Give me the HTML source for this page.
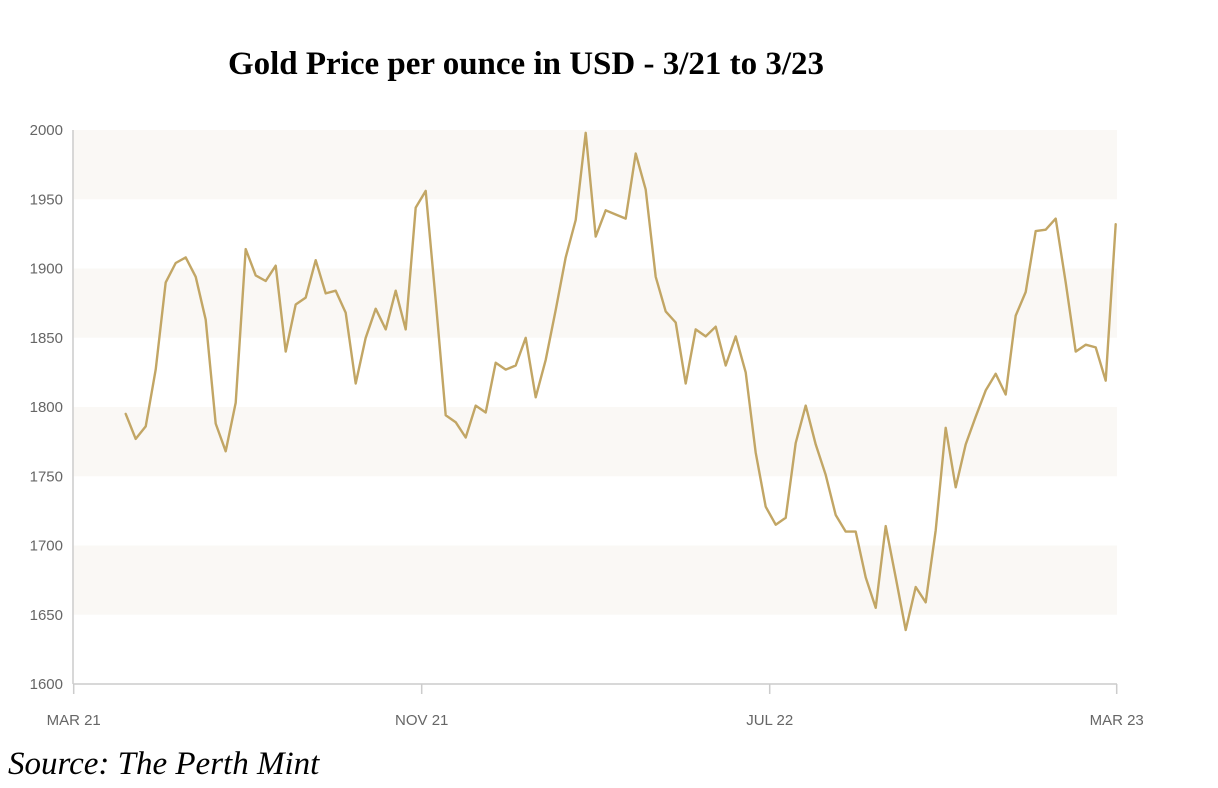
<!DOCTYPE html>
<html><head><meta charset="utf-8"><style>
body{margin:0;background:#fff;width:1218px;height:788px;overflow:hidden}
svg{display:block}
</style></head><body>
<svg id="chart" width="1218" height="788">
<text x="526" y="74" text-anchor="middle" font-family="Liberation Serif, serif" font-weight="bold" font-size="33" fill="#000">Gold Price per ounce in USD - 3/21 to 3/23</text>
<g id="bands"></g>
<g id="yaxis"></g>
<g id="xaxis"></g>
<g id="series"></g>
<text x="8" y="774" font-family="Liberation Serif, serif" font-style="italic" font-size="33" fill="#000">Source: The Perth Mint</text>
</svg>
<script>
const prices=[1795,1777,1786,1827,1890,1904,1908,1894,1863,1788,1768,1803,1914,1895,1891,1902,1840,1874,1879,1906,1882,1884,1868,1817,1850,1871,1856,1884,1856,1944,1956,1877,1794,1789,1778,1801,1796,1832,1827,1830,1850,1807,1834,1870,1908,1935,1998,1923,1942,1939,1936,1983,1957,1894,1869,1861,1817,1856,1851,1858,1830,1851,1825,1767,1728,1715,1720,1774,1801,1773,1751,1722,1710,1710,1677,1655,1714,1677,1639,1670,1659,1711,1785,1742,1773,1793,1812,1824,1809,1866,1883,1927,1928,1936,1890,1840,1845,1843,1819,1932];
const yTicks=[1600,1650,1700,1750,1800,1850,1900,1950,2000];
const xTickLabels=["MAR 21","NOV 21","JUL 22","MAR 23"];
const xTickWeeks=[-5.2,29.6,64.4,99.1];
const NS="http://www.w3.org/2000/svg";
const L=73,R=1117,T=130,B=684;
const y=v=>B-(v-1600)/400*(B-T);
const x=i=>125.7+10*i;
function mk(tag,attrs,parent){const e=document.createElementNS(NS,tag);for(const k in attrs)e.setAttribute(k,attrs[k]);parent.appendChild(e);return e;}
const bands=document.getElementById('bands');
for(let k=0;k<yTicks.length-1;k++){
  if(k%2===1){
    const r=mk('rect',{x:L,y:y(yTicks[k+1]),width:R-L,height:y(yTicks[k])-y(yTicks[k+1]),fill:'#faf8f5'},bands);
    
    
  }
}
const ya=document.getElementById('yaxis');
const yl=mk('line',{x1:L,y1:T,x2:L,y2:B,stroke:'#ccc','stroke-width':1.5},ya);


yTicks.forEach(v=>{
  const t=mk('text',{x:63,y:y(v)+5,'text-anchor':'end','font-family':'Liberation Sans, sans-serif','font-size':15,fill:'#666'},ya);
  t.textContent=v;
  
  
});
const xa=document.getElementById('xaxis');
const xl=mk('line',{x1:L,y1:B,x2:R,y2:B,stroke:'#ccc','stroke-width':1.5},xa);


xTickWeeks.forEach((w,i)=>{
  const px=x(w);
  const tk=mk('line',{x1:px,y1:B,x2:px,y2:B+10,stroke:'#ccc','stroke-width':1.5},xa);
  
  
  const t=mk('text',{x:px,y:B+41,'text-anchor':'middle','font-family':'Liberation Sans, sans-serif','font-size':15,fill:'#666'},xa);
  t.textContent=xTickLabels[i];
  
  
});
const s=document.getElementById('series');
const p=mk('polyline',{points:prices.map((v,i)=>x(i).toFixed(1)+','+y(v).toFixed(1)).join(' '),fill:'none',stroke:'#c2a665','stroke-width':2.4,'stroke-linejoin':'round','stroke-linecap':'round'},s);


</script>
</body></html>
